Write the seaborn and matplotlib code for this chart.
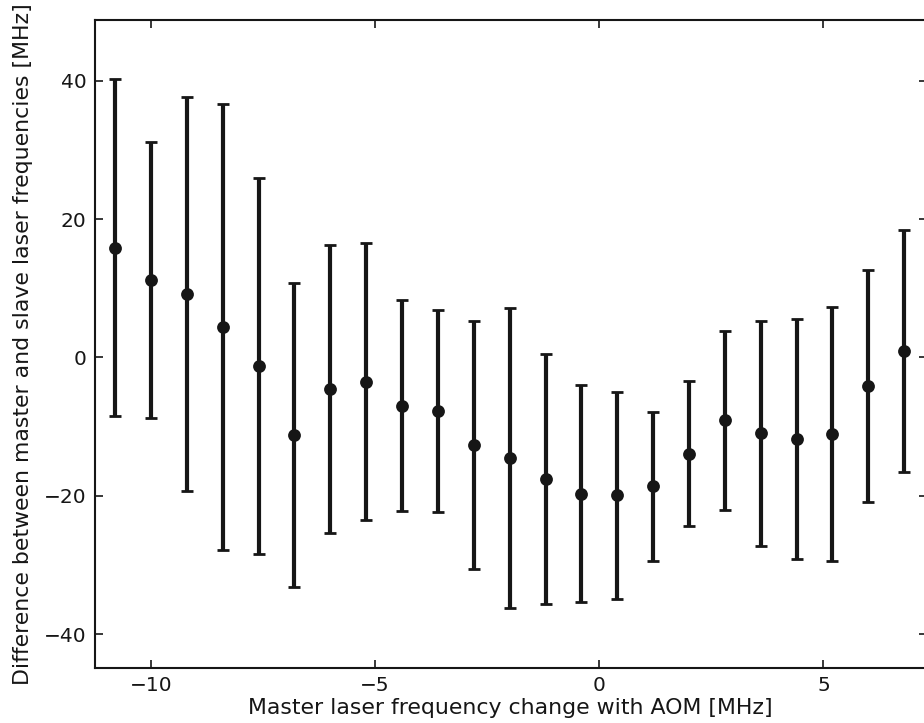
import matplotlib
matplotlib.use("Agg")
import matplotlib.pyplot as plt
import seaborn as sns
import numpy as np
import pandas as pd

# Data
freq_change = [-10.8, -10.0, -9.2, -8.4, -7.6, -6.8, -6.0, -5.2, -4.4, -3.6, -2.8, -2.0,
               -1.2, -0.4, 0.4, 1.2, 2.0, 2.8, 3.6, 4.4, 5.2, 6.0, 6.8]
difference = [15.85, 11.2, 9.2, 4.35, -1.25, -11.25, -4.6, -3.5, -6.95, -7.8, -12.65, -14.5,
              -17.6, -19.7, -19.95, -18.65, -13.9, -9.1, -10.95, -11.75, -11.05, -4.15, 0.95]
err = [24.35, 19.9, 28.5, 32.25, 27.15, 21.95, 20.8, 20.0, 15.25, 14.6, 17.95, 21.7,
       18.1, 15.7, 14.95, 10.75, 10.5, 13.0, 16.25, 17.35, 18.35, 16.75, 17.55]
xticks = [-10, -5, 0, 5]
yticks = [-40, -20, 0, 20, 40]

df = pd.DataFrame({"x": freq_change, "y": difference, "e": err})

sns.set_style("ticks")
plt.rcParams["font.family"] = ["DejaVu Sans"]

fig = plt.figure(figsize=(9.24, 7.23), dpi=100)
ax = fig.add_axes([0.1028, 0.0761, 0.9, 0.8962])

ax.errorbar(df["x"], df["y"], yerr=df["e"], fmt="none", ecolor="#161616",
            elinewidth=3.0, capsize=4, capthick=2.0, zorder=2)
sns.scatterplot(data=df, x="x", y="y", ax=ax, color="#161616", s=85,
                edgecolor="#161616", linewidth=0, zorder=3)

ax.set_xlim(-11.25, 7.3)
ax.set_ylim(-44.9, 48.8)
ax.set_xticks(xticks)
ax.set_yticks(yticks)
ax.set_xticklabels([("\u2212" if t < 0 else "") + str(abs(t)) for t in xticks])
ax.set_yticklabels([("\u2212" if t < 0 else "") + str(abs(t)) for t in yticks])
ax.tick_params(direction="in", length=6, width=1.2, labelsize=14.5, color="#161616",
               top=True, right=True, pad=6, labelcolor="#161616")
for s in ax.spines.values():
    s.set_visible(True)
    s.set_linewidth(1.5)
    s.set_color("#161616")

ax.set_xlabel("Master laser frequency change with AOM [MHz]", fontsize=15.8,
              color="#161616", labelpad=2)
ax.set_ylabel("Difference between master and slave laser frequencies [MHz]",
              fontsize=15.8, color="#161616", labelpad=8)

fig.savefig("out.png", dpi=100)
